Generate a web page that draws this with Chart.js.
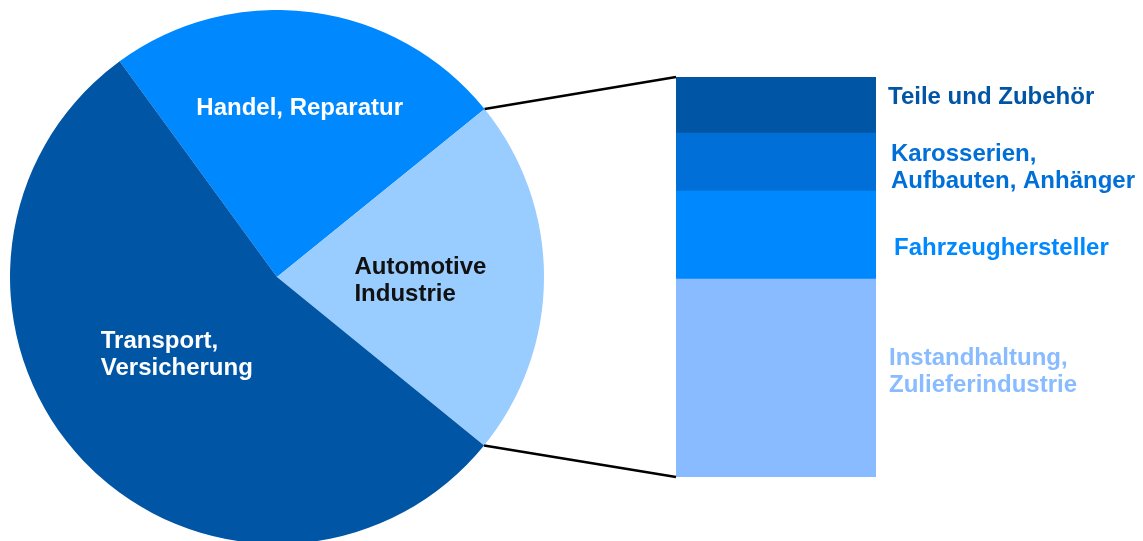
<!DOCTYPE html>
<html>
<head>
<meta charset="utf-8">
<script src="https://cdn.jsdelivr.net/npm/chart.js@4.4.1/dist/chart.umd.min.js"></script>
<style>
  html, body { margin: 0; padding: 0; background: #fff; overflow: hidden; }
  #pieBox { position: absolute; left: 10px; top: 10px; width: 534px; height: 534px; }
  #barBox { position: absolute; left: 0; top: 0; width: 1143px; height: 541px; }
</style>
</head>
<body>
<div id="pieBox"><canvas id="pieChart"></canvas></div>
<div id="barBox"><canvas id="barChart"></canvas></div>
<script>
// Pie: share by sector (%)
const pieLabels = ['Handel, Reparatur', 'Automotive Industrie', 'Transport, Versicherung'];
const pieValues = [24.2, 21.7, 54.1];
const pieColors = ['#0088FF', '#99CCFF', '#0055A5'];

// Breakdown of "Automotive Industrie" (%), bottom to top
const barLabels = ['Instandhaltung, Zulieferindustrie', 'Fahrzeughersteller', 'Karosserien, Aufbauten, Anhänger', 'Teile und Zubehör'];
const barValues = [49.5, 22, 14.5, 14];
const barColors = ['#88BBFF', '#0088FF', '#0070D8', '#0055A5'];

const FONT = 'bold 24px "Liberation Sans", Arial, sans-serif';
const LINE_H = 27;
const PIE_LEFT = 10, PIE_TOP = 10;

// text inside the pie: [lines, color, align, dx, dy] relative to centre (fractions of radius)
const pieText = [
    [['Handel, Reparatur'], '#fff', 'center', 0.085, -0.63],
    [['Automotive', 'Industrie'], '#111', 'left', 0.29, -0.037],
    [['Transport,', 'Versicherung'], '#fff', 'left', -0.66, 0.24]
];

const pieLabelPlugin = {
    id: 'pieLabelPlugin',
    afterDraw(chart) {
        const arc = chart.getDatasetMeta(0).data[0];
        const ctx = chart.ctx;
        const r = arc.outerRadius;
        ctx.save();
        ctx.font = FONT;
        ctx.textBaseline = 'middle';
        pieText.forEach(([lines, color, align, dx, dy]) => {
            ctx.fillStyle = color;
            ctx.textAlign = align;
            lines.forEach((t, i) => {
                ctx.fillText(t, arc.x + dx * r, arc.y + dy * r + i * LINE_H);
            });
        });
        ctx.restore();
    }
};

const pieChart = new Chart(document.getElementById('pieChart').getContext('2d'), {
    type: 'pie',
    data: {
        labels: pieLabels,
        datasets: [{
            data: pieValues,
            backgroundColor: pieColors,
            borderWidth: 0
        }]
    },
    options: {
        responsive: true,
        maintainAspectRatio: false,
        animation: false,
        rotation: -36.1,
        layout: { padding: 0 },
        plugins: {
            legend: { display: false },
            tooltip: { enabled: false }
        }
    },
    plugins: [pieLabelPlugin]
});

// right-hand labels: text lines, colour, vertical shift from segment middle, gap from bar
const barText = [
    [['Instandhaltung,', 'Zulieferindustrie'], '#88BBFF', -6.5, 13],
    [['Fahrzeughersteller'], '#0088FF', 13, 18],
    [['Karosserien,', 'Aufbauten, Anhänger'], '#0070D8', 5.5, 15],
    [['Teile und Zubehör'], '#0055A5', -8, 12]
];

const connectorPlugin = {
    id: 'connectorPlugin',
    afterDraw(chart) {
        const ctx = chart.ctx;
        const area = chart.chartArea;
        const auto = pieChart.getDatasetMeta(0).data[1];
        const r = auto.outerRadius;
        const p1 = [PIE_LEFT + auto.x + r * Math.cos(auto.startAngle), PIE_TOP + auto.y + r * Math.sin(auto.startAngle)];
        const p2 = [PIE_LEFT + auto.x + r * Math.cos(auto.endAngle), PIE_TOP + auto.y + r * Math.sin(auto.endAngle)];
        ctx.save();
        ctx.strokeStyle = '#000';
        ctx.lineWidth = 2.5;
        ctx.beginPath();
        ctx.moveTo(p1[0], p1[1]);
        ctx.lineTo(area.left, area.top);
        ctx.moveTo(p2[0], p2[1]);
        ctx.lineTo(area.left, area.bottom);
        ctx.stroke();

        ctx.font = FONT;
        ctx.textBaseline = 'middle';
        ctx.textAlign = 'left';
        barText.forEach(([lines, color, shift, gap], i) => {
            const el = chart.getDatasetMeta(i).data[0];
            const mid = (el.y + el.base) / 2 + shift;
            const y0 = mid - (lines.length - 1) * LINE_H / 2;
            ctx.fillStyle = color;
            lines.forEach((t, j) => ctx.fillText(t, area.right + gap, y0 + j * LINE_H));
        });
        ctx.restore();
    }
};

new Chart(document.getElementById('barChart').getContext('2d'), {
    type: 'bar',
    data: {
        labels: [''],
        datasets: barValues.map((v, i) => ({
            label: barLabels[i],
            data: [v],
            backgroundColor: barColors[i],
            borderWidth: 0,
            barPercentage: 1,
            categoryPercentage: 1
        }))
    },
    options: {
        responsive: true,
        maintainAspectRatio: false,
        animation: false,
        layout: { padding: { left: 676, right: 267, top: 77, bottom: 64 } },
        scales: {
            x: { stacked: true, display: false },
            y: { stacked: true, display: false, min: 0, max: 100 }
        },
        plugins: {
            legend: { display: false },
            tooltip: { enabled: false }
        }
    },
    plugins: [connectorPlugin]
});
</script>
</body>
</html>
